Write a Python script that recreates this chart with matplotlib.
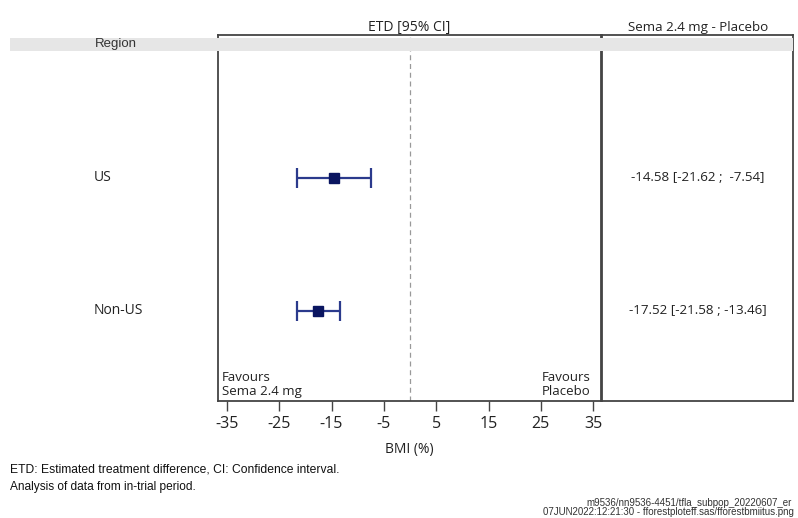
import matplotlib
matplotlib.use("Agg")
import matplotlib.pyplot as plt
from matplotlib.patches import Rectangle

plt.rcParams['font.family'] = ['Open Sans', 'DejaVu Sans']

regions = ["US", "Non-US"]
etd = [-14.58, -17.52]
ci_low = [-21.62, -21.58]
ci_high = [-7.54, -13.46]
etd_text = ["-14.58 [-21.62 ;  -7.54]", "-17.52 [-21.58 ; -13.46]"]
xticks = [-35, -25, -15, -5, 5, 15, 25, 35]

W, H = 798, 518
fig = plt.figure(figsize=(W / 100, H / 100), dpi=100)

def fx(px):
    return px / W

def fy(py):
    return 1 - py / H

# header band
fig.patches.append(Rectangle((fx(10), fy(51)), fx(793) - fx(10), fy(38) - fy(51),
                             transform=fig.transFigure, facecolor="#e6e6e6",
                             edgecolor="none", zorder=0))

ax = fig.add_axes([fx(218), fy(401), fx(601) - fx(218), fy(35) - fy(401)])
ax2 = fig.add_axes([fx(602), fy(401), fx(793) - fx(602), fy(35) - fy(401)])
for a in (ax, ax2):
    a.set_facecolor("none")
    for s in a.spines.values():
        s.set_color("#444444")
        s.set_linewidth(1.3)

ypos = list(range(1, len(regions) + 1))
ylim = (2.677, -0.075)

ax.set_xlim(-36.7, 36.5)
ax.set_ylim(*ylim)
ax.axvline(0, color="#999999", linestyle=(0, (4, 3)), linewidth=0.9, zorder=1)

for y, e, lo, hi in zip(ypos, etd, ci_low, ci_high):
    ax.errorbar([e], [y], xerr=[[e - lo], [hi - e]], fmt="none",
                ecolor="#2b3a8c", elinewidth=1.6, capsize=7, capthick=1.6, zorder=2)
    ax.plot([e], [y], marker="s", markersize=7.5, color="#0a1560", zorder=3)

ax.set_xticks(xticks)
ax.set_xticklabels([str(t) for t in xticks], fontsize=11.5, color="#222222")
ax.tick_params(axis="x", direction="out", length=7, width=1.0, color="#444444", pad=4)
ax.set_yticks([])
ax.set_xlabel("BMI (%)", fontsize=10, color="#222222", labelpad=7)

ax.text(-36.0, 2.55, "Favours\nSema 2.4 mg", fontsize=9.5, color="#222222",
        ha="left", va="center", linespacing=1.1)
ax.text(34.5, 2.55, "Favours\nPlacebo", fontsize=9.5, color="#222222",
        ha="right", va="center", linespacing=1.1, multialignment="center")

ax2.set_xlim(0, 1)
ax2.set_ylim(*ylim)
ax2.set_xticks([])
ax2.set_yticks([])
for y, t in zip(ypos, etd_text):
    ax2.text(0.5, y, t, fontsize=9.6, ha="center", va="center", color="#222222")

# column headers
fig.text(fx(409), fy(27), "ETD [95% CI]", fontsize=10, ha="center", va="center", color="#222222")
fig.text(fx(698), fy(27), "Sema 2.4 mg - Placebo", fontsize=9.6, ha="center", va="center", color="#222222")
fig.text(fx(95), fy(44), "Region", fontsize=9.5, ha="left", va="center", color="#333333",
         family=["Liberation Sans", "DejaVu Sans"])

for y, r in zip(ypos, regions):
    ypix = ax.transData.transform((0, y))[1]
    fig.text(fx(94), ypix / H, r, fontsize=10, ha="left", va="center", color="#222222")

fig.text(fx(10), fy(470), "ETD: Estimated treatment difference, CI: Confidence interval.",
         fontsize=8.7, ha="left", va="center", color="#111111",
         family=["Liberation Sans", "DejaVu Sans"])
fig.text(fx(10), fy(487), "Analysis of data from in-trial period.",
         fontsize=8.6, ha="left", va="center", color="#111111",
         family=["Liberation Sans", "DejaVu Sans"])
fig.text(fx(792), fy(503), "m9536/nn9536-4451/tfla_subpop_20220607_er",
         fontsize=7, ha="right", va="center", color="#333333",
         family=["Liberation Sans", "DejaVu Sans"])
fig.text(fx(794), fy(512), "07JUN2022:12:21:30 - fforestploteff.sas/fforestbmiitus.png",
         fontsize=7, ha="right", va="center", color="#333333",
         family=["Liberation Sans", "DejaVu Sans"])

fig.savefig("out.png", dpi=100)
